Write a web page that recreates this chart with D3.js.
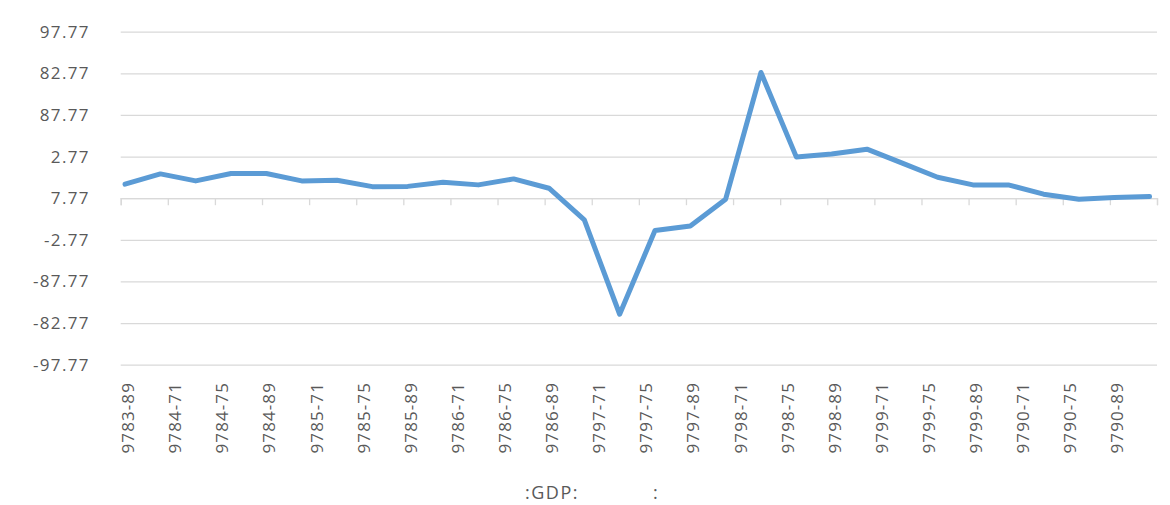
<!DOCTYPE html>
<html>
<head>
<meta charset="utf-8">
<script src="https://cdn.jsdelivr.net/npm/d3@7"></script>
<style>
  body { margin: 0; background: #fff; }
  text { font-family: 'Open Sans', sans-serif; fill: #595959; }
</style>
</head>
<body>
<div id="chart-area"></div>
<script>
// chart size
const W = 1170;
const H = 505;
const plot = { left: 120.7, right: 1157, top: 31.7, bottom: 364.7 };

// y ticks (real value) and the labels printed next to them
const yTickValues = [20, 15, 10, 5, 0, -5, -10, -15, -20];
const yTickLabels = ['97.77', '82.77', '87.77', '2.77', '7.77', '-2.77', '-87.77', '-82.77', '-97.77'];

// x axis labels, one per 4-month tick
const xTickLabels = [
  '9783-89', '9784-71', '9784-75', '9784-89', '9785-71', '9785-75',
  '9785-89', '9786-71', '9786-75', '9786-89', '9797-71', '9797-75',
  '9797-89', '9798-71', '9798-75', '9798-89', '9799-71', '9799-75',
  '9799-89', '9790-71', '9790-75', '9790-89',
];

// quarterly series values
const values = [
  1.68, 2.92, 2.08, 2.96, 2.96, 2.08, 2.16, 1.39, 1.42, 1.92,
  1.6, 2.32, 1.2, -2.61, -13.94, -3.89, -3.33, -0.12, 15.1, 4.96,
  5.32, 5.89, 4.21, 2.52, 1.6, 1.6, 0.48, -0.12, 0.07, 0.19,
];

const titleParts = [':GDP:', ':'];

const svg = d3
  .select('#chart-area')
  .append('svg')
  .attr('width', W)
  .attr('height', H);

// scales: x in months from the first tick, y in %
const totalMonths = xTickLabels.length * 4;
const x = d3.scaleLinear().domain([0, totalMonths]).range([plot.left, plot.right]);
const y = d3.scaleLinear().domain([-20, 20]).range([plot.bottom, plot.top]);

// first data point sits ~11 days after the first tick, then every quarter
const pointMonth = (i) => 0.37 + 3 * i;

// horizontal gridlines + y labels
const yAxis = svg
  .append('g')
  .attr('transform', `translate(${plot.left}, 0)`)
  .call(
    d3
      .axisLeft(y)
      .tickValues(yTickValues)
      .tickSize(-(plot.right - plot.left))
      .tickPadding(31)
      .tickFormat((d, i) => yTickLabels[i])
  );
yAxis.select('.domain').remove();
yAxis.selectAll('line').attr('stroke', '#d9d9d9').attr('stroke-width', 1.3);
yAxis
  .selectAll('text')
  .attr('font-size', 17)
  .attr('letter-spacing', '1.3px')
  .style('font-family', "'Open Sans', sans-serif")
  .attr('fill', '#595959');

// category axis on the zero line
const xTicks = d3.range(0, totalMonths + 1, 4);
const xAxis = svg
  .append('g')
  .attr('transform', `translate(0, ${y(0)})`)
  .call(d3.axisBottom(x).tickValues(xTicks).tickSize(7).tickFormat(''));
xAxis.select('.domain').attr('stroke', '#d9d9d9').attr('stroke-width', 1.3);
xAxis.selectAll('line').attr('stroke', '#d9d9d9').attr('stroke-width', 1.3);

// rotated x labels below the plot
svg
  .selectAll('.x-label')
  .data(xTickLabels)
  .enter()
  .append('text')
  .attr('class', 'x-label')
  .attr('transform', (d, i) => `translate(${x(i * 4) + 7.5}, 382) rotate(-90)`)
  .attr('text-anchor', 'end')
  .attr('dy', '0.35em')
  .attr('font-size', 17)
  .attr('letter-spacing', '1.1px')
  .text((d) => d);

// the series
const line = d3
  .line()
  .x((d, i) => x(pointMonth(i)))
  .y((d) => y(d));

svg
  .append('path')
  .datum(values)
  .attr('fill', 'none')
  .attr('stroke', '#5b9bd5')
  .attr('stroke-width', 5)
  .attr('stroke-linejoin', 'round')
  .attr('stroke-linecap', 'round')
  .attr('d', line);

// title at the bottom
svg
  .append('text')
  .attr('x', 525)
  .attr('y', 499)
  .attr('font-size', 18)
  .attr('letter-spacing', '1.5px')
  .text(titleParts[0]);
svg
  .append('text')
  .attr('x', 653)
  .attr('y', 499)
  .attr('font-size', 18)
  .text(titleParts[1]);
</script>
</body>
</html>
